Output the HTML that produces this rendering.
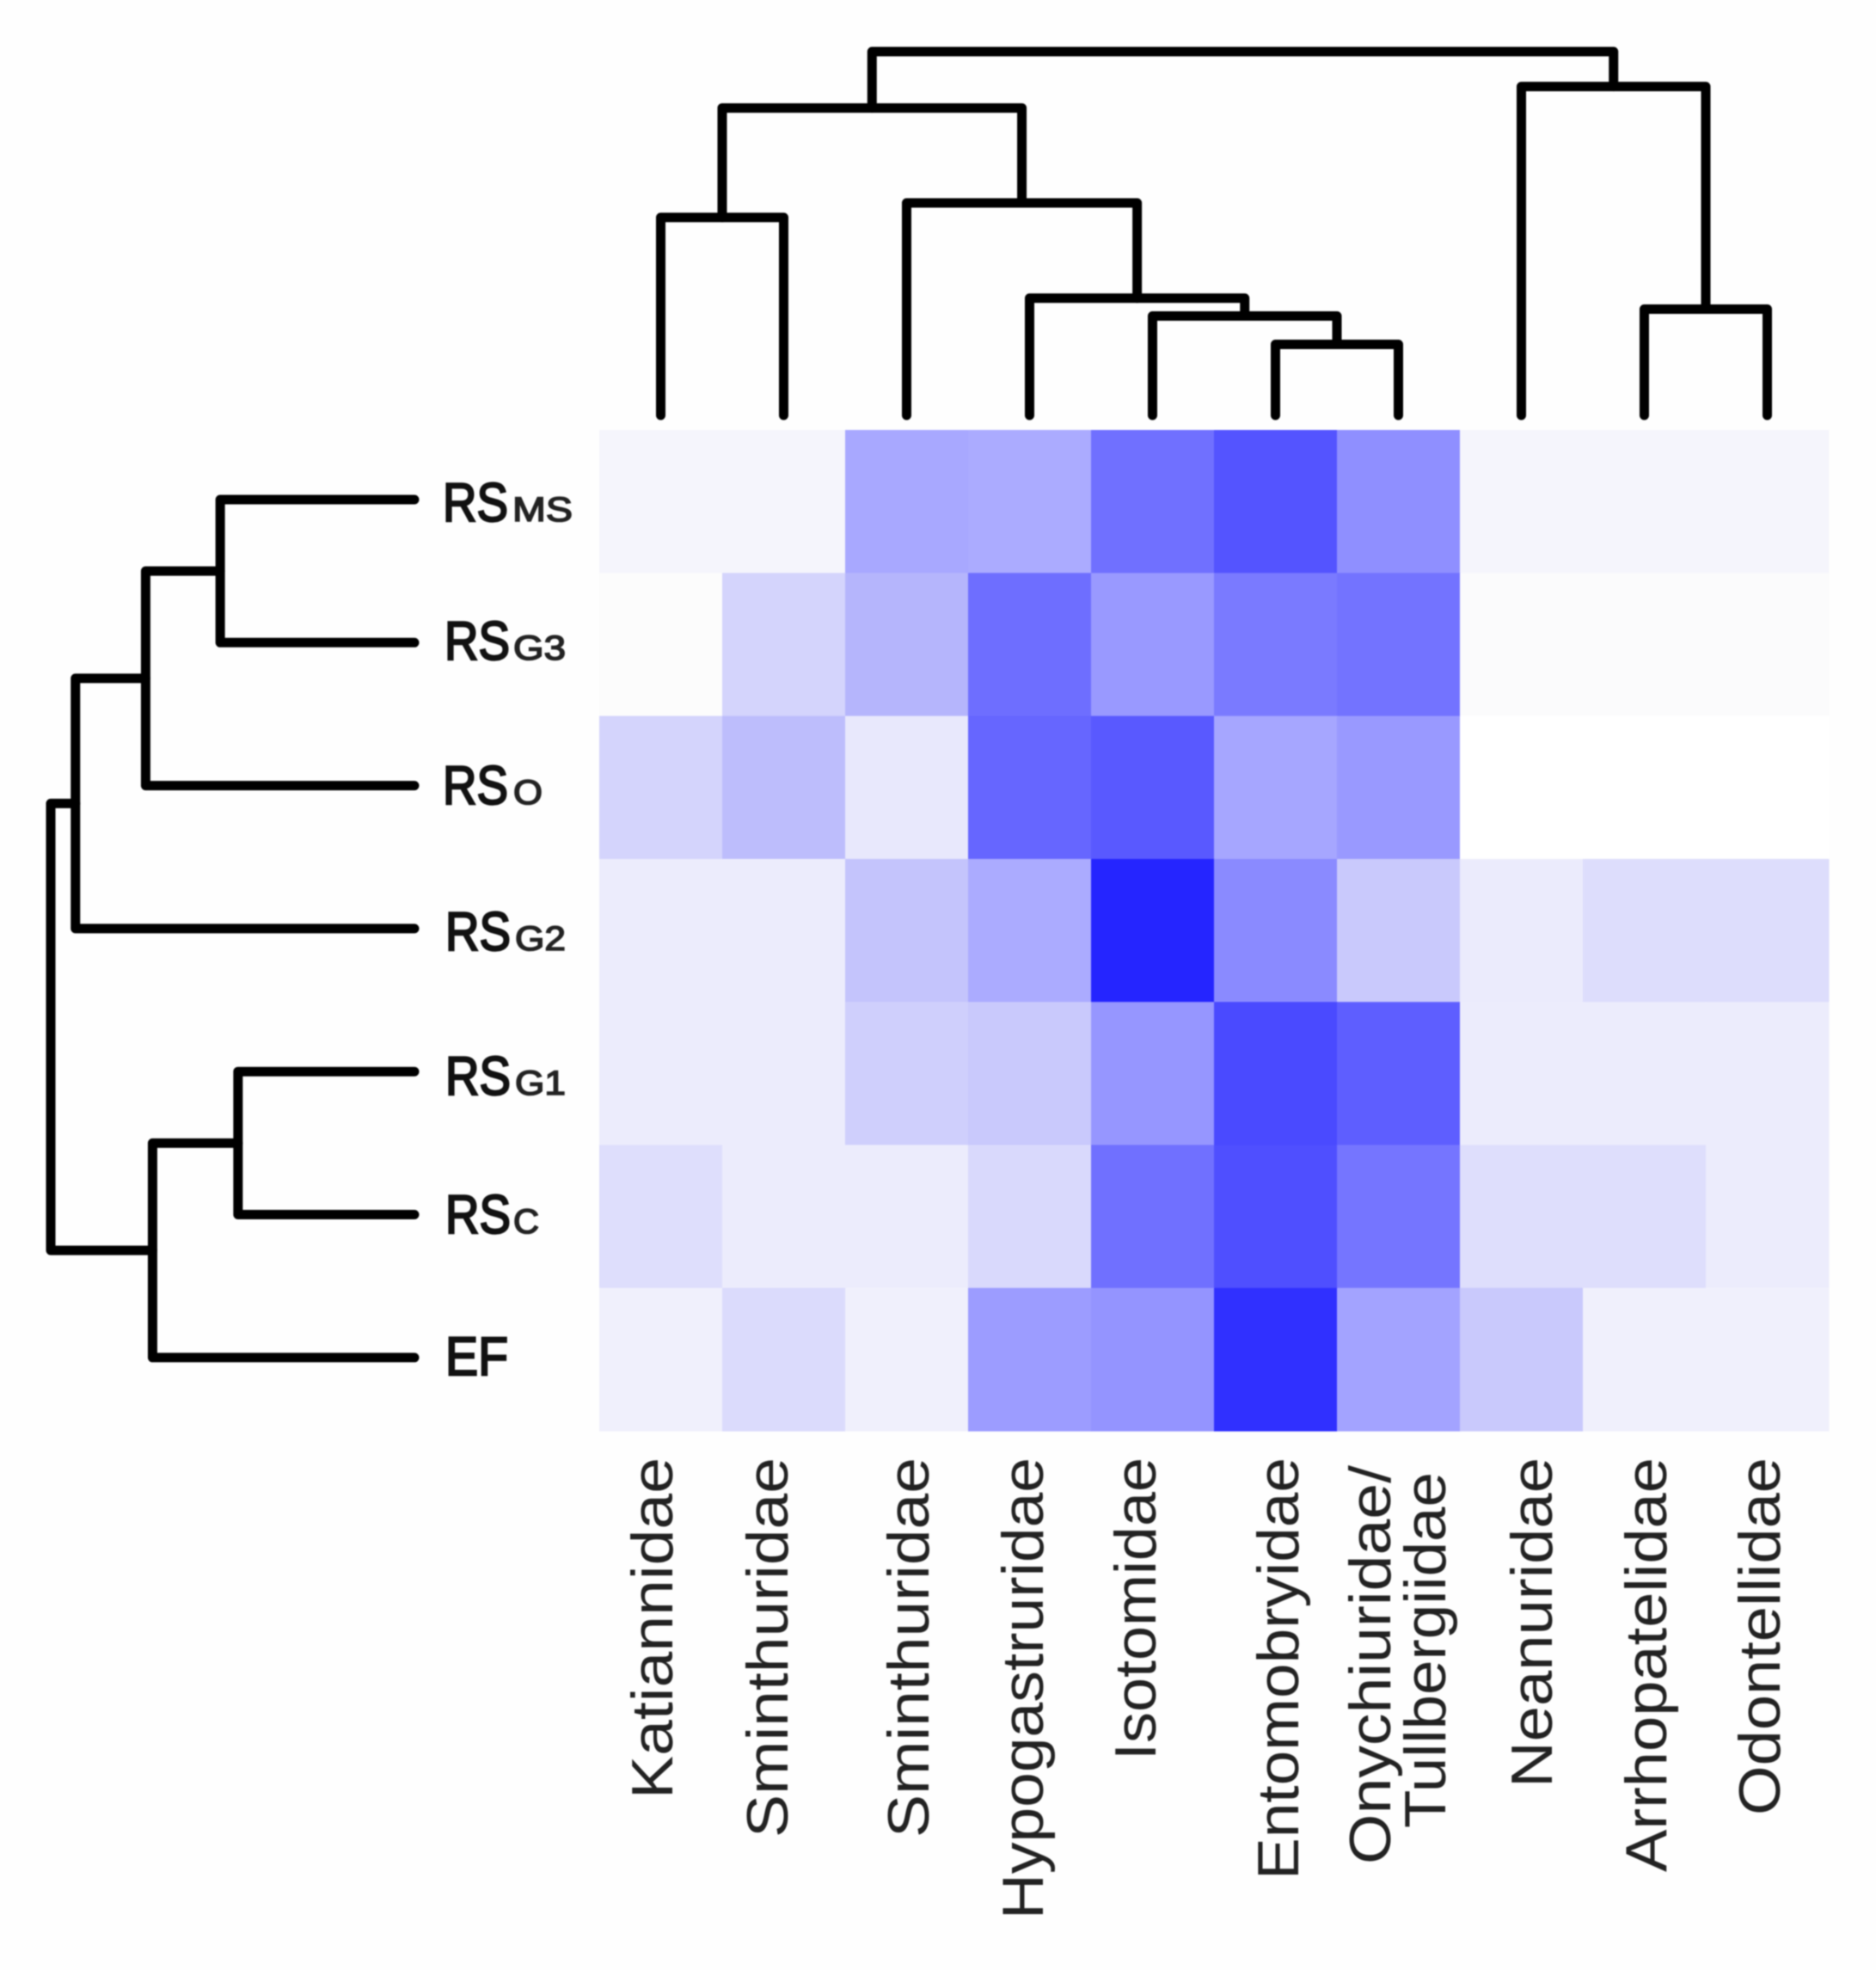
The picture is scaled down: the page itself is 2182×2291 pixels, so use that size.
<!DOCTYPE html>
<html lang="en">
<head>
<meta charset="utf-8">
<title>Heatmap with dendrograms</title>
<style>
  html, body { margin: 0; padding: 0; background: #fefefe; }
  svg { display: block; filter: blur(0.9px); }
  .col-label { font-family: "Liberation Sans", sans-serif; font-size: 68px; fill: #222; }
  .row-main { font-family: "Liberation Sans", sans-serif; font-size: 63px; fill: #111; stroke: #111; stroke-width: 2.4px; }
  .row-sub { font-family: "Liberation Sans", sans-serif; font-size: 40px; fill: #222; stroke: #222; stroke-width: 1.6px; }
</style>
</head>
<body>
<svg id="chart" xmlns="http://www.w3.org/2000/svg" width="2182" height="2291" viewBox="0 0 2182 2291">
  <rect x="0" y="0" width="2182" height="2291" fill="#fefefe"/>
  <g id="cells"></g>
  <g id="top-tree" fill="none" stroke="#000" stroke-width="11" stroke-linecap="round" stroke-linejoin="round"></g>
  <g id="left-tree" fill="none" stroke="#000" stroke-width="11" stroke-linecap="round" stroke-linejoin="round"></g>

  <g>
    <g><text class="row-main" x="515" y="606" textLength="76" lengthAdjust="spacingAndGlyphs">RS</text><text class="row-sub" x="596" y="606" textLength="70" lengthAdjust="spacingAndGlyphs">MS</text></g>
    <g><text class="row-main" x="517" y="767" textLength="76" lengthAdjust="spacingAndGlyphs">RS</text><text class="row-sub" x="597" y="767" textLength="61" lengthAdjust="spacingAndGlyphs">G3</text></g>
    <g><text class="row-main" x="515" y="935" textLength="76" lengthAdjust="spacingAndGlyphs">RS</text><text class="row-sub" x="597" y="935" textLength="34" lengthAdjust="spacingAndGlyphs">O</text></g>
    <g><text class="row-main" x="518" y="1105" textLength="76" lengthAdjust="spacingAndGlyphs">RS</text><text class="row-sub" x="599" y="1105" textLength="59" lengthAdjust="spacingAndGlyphs">G2</text></g>
    <g><text class="row-main" x="518" y="1273" textLength="76" lengthAdjust="spacingAndGlyphs">RS</text><text class="row-sub" x="599" y="1273" textLength="59" lengthAdjust="spacingAndGlyphs">G1</text></g>
    <g><text class="row-main" x="518" y="1434" textLength="76" lengthAdjust="spacingAndGlyphs">RS</text><text class="row-sub" x="597" y="1434" textLength="30" lengthAdjust="spacingAndGlyphs">C</text></g>
    <g><text class="row-main" x="518" y="1599" textLength="73" lengthAdjust="spacingAndGlyphs">EF</text></g>
  </g>

  <g>
    <text class="col-label" transform="translate(782,2092) rotate(-90)" textLength="397" lengthAdjust="spacingAndGlyphs">Katiannidae</text>
    <text class="col-label" transform="translate(916,2137) rotate(-90)" textLength="442" lengthAdjust="spacingAndGlyphs">Sminthuridae</text>
    <text class="col-label" transform="translate(1080,2137) rotate(-90)" textLength="442" lengthAdjust="spacingAndGlyphs">Sminthuridae</text>
    <text class="col-label" transform="translate(1213,2232) rotate(-90)" textLength="537" lengthAdjust="spacingAndGlyphs">Hypogastruridae</text>
    <text class="col-label" transform="translate(1344,2047) rotate(-90)" textLength="352" lengthAdjust="spacingAndGlyphs">Isotomidae</text>
    <text class="col-label" transform="translate(1510,2186) rotate(-90)" textLength="491" lengthAdjust="spacingAndGlyphs">Entomobryidae</text>
    <text class="col-label" transform="translate(1617,2168) rotate(-90)" textLength="464" lengthAdjust="spacingAndGlyphs">Onychiuridae/</text>
    <text class="col-label" transform="translate(1681,2126) rotate(-90)" textLength="414" lengthAdjust="spacingAndGlyphs">Tullbergiidae</text>
    <text class="col-label" transform="translate(1805,2079) rotate(-90)" textLength="384" lengthAdjust="spacingAndGlyphs">Neanuridae</text>
    <text class="col-label" transform="translate(1938,2177) rotate(-90)" textLength="482" lengthAdjust="spacingAndGlyphs">Arrhopatelidae</text>
    <text class="col-label" transform="translate(2070,2111) rotate(-90)" textLength="416" lengthAdjust="spacingAndGlyphs">Odontellidae</text>
  </g>
</svg>

<script>
// Data
const rowNames = ['RS-MS', 'RS-G3', 'RS-O', 'RS-G2', 'RS-G1', 'RS-C', 'EF'];
const colNames = ['Katiannidae', 'Sminthuridae-1', 'Sminthuridae-2', 'Hypogastruridae', 'Isotomidae', 'Entomobryidae', 'Onychiuridae-Tullbergiidae', 'Neanuridae', 'Arrhopatelidae', 'Odontellidae'];
const rowMS = [0.04, 0.04, 0.34, 0.33, 0.56, 0.67, 0.44, 0.04, 0.04, 0.04];
const rowG3 = [0.01, 0.17, 0.29, 0.57, 0.40, 0.52, 0.55, 0.015, 0.015, 0.015];
const rowO  = [0.17, 0.26, 0.09, 0.60, 0.65, 0.35, 0.40, 0, 0, 0];
const rowG2 = [0.075, 0.075, 0.23, 0.33, 0.855, 0.46, 0.21, 0.08, 0.135, 0.135];
const rowG1 = [0.075, 0.075, 0.19, 0.21, 0.41, 0.71, 0.63, 0.075, 0.075, 0.075];
const rowC  = [0.13, 0.075, 0.075, 0.15, 0.56, 0.69, 0.54, 0.13, 0.13, 0.075];
const rowEF = [0.06, 0.14, 0.06, 0.39, 0.42, 0.81, 0.36, 0.21, 0.06, 0.06];
const heatValues = [rowMS, rowG3, rowO, rowG2, rowG1, rowC, rowEF];

// Linkage tables: [child A, child B, merge height]. Children below the leaf count are leaves;
// the others refer to earlier merges (leaf count + merge index).
const colMerges = [
  [5, 6, 0.195],
  [4, 10, 0.273],
  [3, 11, 0.322],
  [2, 12, 0.584],
  [0, 1, 0.544],
  [14, 13, 0.845],
  [8, 9, 0.292],
  [7, 16, 0.904],
  [15, 17, 1.0]
];
const rowMerges = [
  [0, 1, 0.534],
  [7, 2, 0.739],
  [8, 3, 0.932],
  [4, 5, 0.485],
  [10, 6, 0.72],
  [9, 11, 1.0]
];

// Axis functions
const NS = 'http://www.w3.org/2000/svg';
function colLeft(i) { return 697 + i * 143; }
function colCenter(i) { return colLeft(i) + 71.5; }
function rowTop(i) { return 500 + i * 166.3; }
function rowCenter(i) { return rowTop(i) + 81; }
function topHeight(h) { return 483 - h * 423; }
function leftHeight(h) { return 482 - h * 423; }
function cellColor(v) {
  const c = Math.round(255 * (1 - v));
  const b = v < 0.3 && v > 0 ? 252 : 255;
  return 'rgb(' + c + ',' + c + ',' + b + ')';
}

// Heatmap cells
const cellGroup = document.getElementById('cells');
heatValues.forEach(function (row, r) {
  row.forEach(function (v, c) {
    const el = document.createElementNS(NS, 'rect');
    
    
    el.setAttribute('x', colLeft(c));
    el.setAttribute('y', rowTop(r));
    el.setAttribute('width', 143.5);
    el.setAttribute('height', 166.8);
    el.setAttribute('fill', cellColor(v));
    cellGroup.appendChild(el);
  });
});

// Dendrograms
function drawTree(groupId, merges, leafCount, leafPos, heightFn, vertical, prefix) {
  const group = document.getElementById(groupId);
  const nodes = [];
  for (let i = 0; i < leafCount; i++) nodes.push({ pos: leafPos(i), h: 0 });
  merges.forEach(function (m, idx) {
    const a = nodes[m[0]];
    const b = nodes[m[1]];
    const ha = heightFn(a.h);
    const hb = heightFn(b.h);
    const hm = heightFn(m[2]);
    const pts = vertical
      ? [[a.pos, ha], [a.pos, hm], [b.pos, hm], [b.pos, hb]]
      : [[ha, a.pos], [hm, a.pos], [hm, b.pos], [hb, b.pos]];
    const el = document.createElementNS(NS, 'polyline');
    
    
    el.setAttribute('points', pts.map(function (p) { return p[0] + ',' + p[1]; }).join(' '));
    group.appendChild(el);
    nodes.push({ pos: (a.pos + b.pos) / 2, h: m[2] });
  });
}
drawTree('top-tree', colMerges, colNames.length, colCenter, topHeight, true, 'column-tree');
drawTree('left-tree', rowMerges, rowNames.length, rowCenter, leftHeight, false, 'row-tree');
</script>
</body>
</html>
